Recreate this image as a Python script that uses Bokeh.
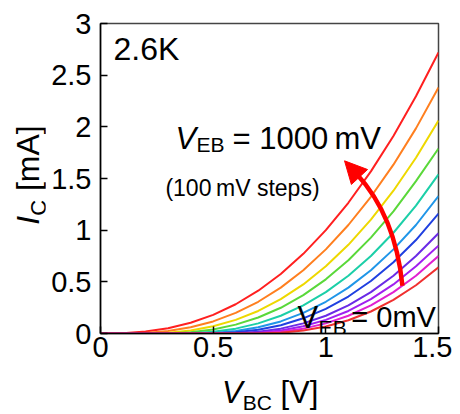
import math
from bokeh.plotting import figure
from bokeh.layouts import row, column
from bokeh.models import Range1d, FixedTicker, Label, Arrow, NormalHead, Div
from bokeh.embed import file_html
from bokeh.resources import INLINE

# ---- data ----
v_bc = [0.0, 0.1, 0.2, 0.3, 0.4, 0.5, 0.6, 0.7, 0.8, 0.9, 1.0, 1.1, 1.2, 1.3, 1.4, 1.5]
veb_mv = [1000, 900, 800, 700, 600, 500, 400, 300, 200, 100, 0]
ic_1000 = [0, 0.003, 0.019, 0.051, 0.104, 0.18, 0.283, 0.414, 0.576, 0.771, 1.0, 1.265, 1.569, 1.912, 2.296, 2.72]
ic_900 = [0, 0, 0.005, 0.024, 0.06, 0.117, 0.2, 0.307, 0.444, 0.612, 0.814, 1.05, 1.323, 1.634, 1.985, 2.38]
ic_800 = [0, 0, 0, 0.008, 0.03, 0.07, 0.132, 0.218, 0.332, 0.475, 0.65, 0.858, 1.102, 1.382, 1.701, 2.06]
ic_700 = [0, 0, 0, 0.001, 0.013, 0.039, 0.086, 0.155, 0.249, 0.372, 0.524, 0.709, 0.928, 1.182, 1.474, 1.79]
ic_600 = [0, 0, 0, 0, 0.003, 0.017, 0.047, 0.098, 0.172, 0.272, 0.4, 0.559, 0.75, 0.975, 1.237, 1.54]
ic_500 = [0, 0, 0, 0, 0, 0.005, 0.024, 0.06, 0.117, 0.199, 0.307, 0.444, 0.612, 0.814, 1.05, 1.33]
ic_400 = [0, 0, 0, 0, 0, 0.001, 0.011, 0.036, 0.08, 0.147, 0.239, 0.358, 0.508, 0.689, 0.904, 1.16]
ic_300 = [0, 0, 0, 0, 0, 0, 0.003, 0.017, 0.047, 0.098, 0.172, 0.272, 0.4, 0.559, 0.75, 0.97]
ic_200 = [0, 0, 0, 0, 0, 0, 0, 0.008, 0.03, 0.07, 0.132, 0.218, 0.332, 0.475, 0.65, 0.85]
ic_100 = [0, 0, 0, 0, 0, 0, 0, 0.003, 0.017, 0.047, 0.098, 0.172, 0.272, 0.4, 0.559, 0.75]
ic_0 = [0, 0, 0, 0, 0, 0, 0, 0, 0.007, 0.028, 0.067, 0.128, 0.213, 0.326, 0.467, 0.64]
series = [ic_1000, ic_900, ic_800, ic_700, ic_600, ic_500, ic_400, ic_300, ic_200, ic_100, ic_0]
colors = ["#ff2020", "#ff7f1f", "#eed800", "#5ad83a", "#1ccfa8", "#2096e8",
          "#2040e0", "#6a2be6", "#a020f0", "#e020d0", "#f03030"]

x_ticks = [0, 0.5, 1, 1.5]
x_tick_labels = ["0", "0.5", "1", "1.5"]
y_ticks = [0, 0.5, 1, 1.5, 2, 2.5, 3]
y_tick_labels = ["0", "0.5", "1", "1.5", "2", "2.5", "3"]

FONT = "Liberation Sans"
YT_W = 45          # width of the y-title strip
PW, PH = 407, 375  # figure size
XT_H = 39          # height of the x-title strip

p = figure(width=PW, height=PH, output_backend="svg", toolbar_location=None,
           x_range=Range1d(0, 1.5), y_range=Range1d(0, 3),
           min_border_left=100 - YT_W, min_border_right=14, min_border_top=23,
           min_border_bottom=PH - 333)
p.background_fill_color = "white"
p.border_fill_color = "white"
p.grid.visible = False
p.outline_line_color = "#444444"
p.outline_line_width = 1.5

for ax, ticks, labels in ((p.xaxis[0], x_ticks, x_tick_labels), (p.yaxis[0], y_ticks, y_tick_labels)):
    ax.ticker = FixedTicker(ticks=ticks)
    ax.major_label_overrides = {t: l for t, l in zip(ticks, labels)}
    ax.major_tick_in = 7
    ax.major_tick_out = 0
    ax.minor_tick_line_color = None
    ax.axis_line_color = "black"
    ax.axis_line_width = 1.5
    ax.major_tick_line_color = "black"
    ax.major_tick_line_width = 1.5
    ax.major_label_text_font = FONT
    ax.major_label_text_font_size = "29px"
    ax.major_label_text_color = "black"
p.xaxis[0].major_label_standoff = 3
p.yaxis[0].major_label_standoff = 9

for ys, c in zip(series, colors):
    p.line(v_bc, ys, line_color=c, line_width=2)

# arrow (curved, red)
p.quadratic(x0=[1.340], y0=[0.462], x1=[1.136], y1=[1.546], cx=[1.309], cy=[1.139],
            line_color="#ff0000", line_width=4.5)
p.add_layout(Arrow(end=NormalHead(size=22, fill_color="#ff0000", line_color="#ff0000"),
                   x_start=1.136, y_start=1.546, x_end=1.083, y_end=1.671,
                   line_color="#ff0000", line_width=4.5))

def lab(x, y, text, size, style="normal"):
    p.add_layout(Label(x=x, y=y, text=text, text_font=FONT, text_font_size=f"{size}px",
                       text_font_style=style, text_color="black",
                       text_align="left", text_baseline="alphabetic"))

lab(0.058, 2.75, "2.6K", 32)
lab(0.333, 1.885, "V", 31, "italic")
lab(0.426, 1.826, "EB", 21)
lab(0.586, 1.885, "= 1000\u2009mV", 31)
lab(0.288, 1.41, "(100\u2009mV steps)", 23)
lab(0.874, 0.155, "V", 31)
lab(0.968, 0.058, "EB", 21)
lab(1.113, 0.155, "= 0mV", 29)

# axis titles (HTML, outside the plot frame)
sub = "font-size:21px;position:relative;top:7px;"
x_title = Div(width=PW, height=XT_H, margin=0, text=(
    f'<div style="font-family:\'{FONT}\';font-size:31px;line-height:{XT_H - 4}px;white-space:nowrap;'
    f'padding-left:{222 - YT_W}px;color:black;">'
    f'<i>V</i><span style="{sub}">BC</span> [V]</div>'))
y_title = Div(width=YT_W, height=PH, margin=0, text=(
    f'<div style="width:350px;height:45px;line-height:45px;font-family:\'{FONT}\';font-size:32px;'
    f'white-space:nowrap;text-align:center;color:black;transform-origin:0 0;'
    f'transform:translate(6px,350px) rotate(-90deg);">'
    f'<i>I</i><span style="font-size:22px;position:relative;top:7px;">C</span> [mA]</div>'))

layout = row(y_title, column(p, x_title))
open("out.html", "w").write(file_html(layout, INLINE))
